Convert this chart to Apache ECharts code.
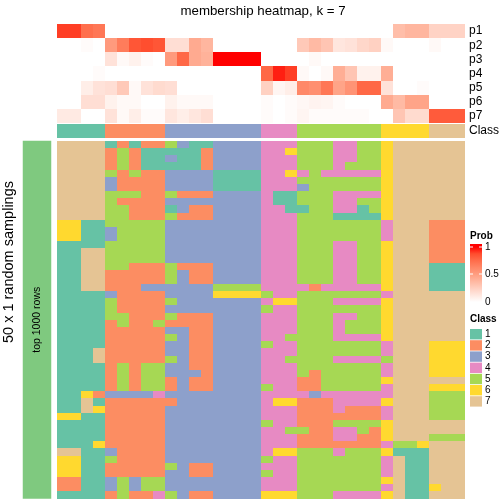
<!DOCTYPE html>
<html>
<head>
<meta charset="utf-8">
<style>html,body{margin:0;padding:0;background:#fff}#c{width:504px;height:504px}</style>
<script src="https://cdn.jsdelivr.net/npm/echarts@6/dist/echarts.min.js"></script>
</head>
<body>
<div id="c"></div>
<script>
const chartTitle = "membership heatmap, k = 7";
const sideTitle = "50 x 1 random samplings";
const sideLabel = "top 1000 rows";
const probLabels = ["p1","p2","p3","p4","p5","p6","p7"];
const p1 = [.9,.9,.74,.7,0,0,0,0,0,0,0,0,0,0,0,0,0,0,0,0,0,0,0,0,0,0,0,0,.34,.38,.38,.23,.23,.23];
const p2 = [0,0,.02,0,.52,.68,.84,.87,.84,.17,.17,.44,.38,0,0,0,0,0,0,0,.28,.36,.3,.13,.15,.21,.24,.03,0,0,0,.03,0,0];
const p3 = [0,0,0,0,.15,.03,.07,.02,0,.52,.77,.44,.4,1,1,1,1,0,0,0,0,.03,0,0,0,0,0,0,0,0,0,0,0,0];
const p4 = [0,0,0,.02,0,0,0,0,0,0,0,0,0,0,0,0,0,.77,.95,.9,.03,0,.03,.42,.3,.07,.07,.42,0,0,0,0,0,0];
const p5 = [0,0,.09,.15,.17,.28,.03,.15,.19,.17,0,0,0,0,0,0,0,.24,.05,.09,.62,.58,.7,.47,.56,.77,.77,.15,0,0,.02,0,0,0];
const p6 = [0,0,.17,.17,.07,.03,.03,0,0,.07,.03,.03,.03,0,0,0,0,.02,0,.02,.04,.06,.05,.02,0,0,0,.44,.36,.47,.47,0,0,0];
const p7 = [.11,.11,0,0,.15,.03,.09,.02,.02,.13,.09,.13,.17,0,0,0,0,.02,0,.02,.05,.02,.02,.02,.02,.02,0,0,.3,.19,.19,.82,.82,.82];
const probRows = [p1,p2,p3,p4,p5,p6,p7];
const classBar = [1,1,1,1,2,2,2,2,2,3,3,3,3,3,3,3,3,4,4,4,5,5,5,5,5,5,5,6,6,6,6,7,7,7];
const classLabels = ["1","2","3","4","5","6","7"];
const classColors = ["#66C2A5","#FC8D62","#8DA0CB","#E78AC3","#A6D854","#FFD92F","#E5C494"];
const probTicks = ["1","0.5","0"];
const rampColors = ["#FFFFFF","#FFE7DF","#FFCFC0","#FFB7A0","#FF9E81","#FF8767","#FF6D4B","#FF4D2E","#FF0000"];
const samplingRows = [
"7777 12122 5311 3333 444 5554455 6 777 777",
"7777 25211 1112 3333 446 5554455 6 777 777",
"7777 25211 3112 3333 444 5554455 6 777 777",
"7777 25211 1112 3333 444 5554555 6 777 777",
"7777 52522 3333 1111 446 4544444 6 777 777",
"7777 32222 3333 1111 444 5555555 6 777 777",
"7777 32222 3333 1111 444 3555555 6 777 777",
"7777 55522 5222 3333 411 5554444 6 777 777",
"7777 52222 3333 3333 411 5554455 6 777 777",
"7777 55222 1322 3333 441 1554415 6 777 777",
"7777 55222 5222 3333 444 5551111 6 777 777",
"6611 55555 3333 3333 444 5555555 4 777 222",
"6611 35555 3333 3333 444 5555555 4 777 222",
"6611 35555 3333 3333 444 5555555 4 777 222",
"1111 55555 3333 3333 444 5554455 6 777 222",
"1177 55555 3333 3333 444 5554455 6 777 222",
"1177 55555 3333 3333 444 5554455 6 777 222",
"1177 55222 5222 3333 444 5554455 6 777 111",
"1177 22222 5322 3333 444 5554455 6 777 111",
"1177 22222 5322 3333 444 5554455 6 777 111",
"1177 22233 3333 5555 444 4244444 6 777 111",
"1111 32222 3333 6666 544 5555555 4 777 777",
"1111 52222 5333 3333 466 5554444 6 777 777",
"1111 52222 3333 3333 544 5555555 6 777 777",
"1111 55222 5222 3333 444 5554455 6 777 777",
"1111 25225 2222 3333 444 5554555 6 777 777",
"1111 22222 3322 3333 444 5554555 6 777 777",
"1111 22222 5322 3333 445 5554444 6 777 777",
"1111 22222 3322 3333 544 5555555 4 777 666",
"1117 22222 3322 3333 444 5555555 4 777 666",
"1117 22222 5322 3333 445 5554444 5 777 666",
"1111 25255 3322 3333 444 5555555 4 777 666",
"1111 25255 3332 3333 444 5255555 4 777 666",
"1111 25255 2322 3333 444 2255555 6 777 777",
"1111 25255 2322 3333 544 2255555 4 777 666",
"1162 33334 3333 3333 444 4344444 4 777 555",
"1171 22222 2333 3333 466 2224444 6 777 555",
"1176 22222 3333 3333 444 2224222 4 777 555",
"6611 22222 3333 3333 444 2222222 4 777 555",
"1111 22222 3333 3333 544 2225555 6 777 777",
"1111 22222 3333 3333 445 5224452 6 777 777",
"1111 22222 3333 3333 444 2224422 6 777 555",
"1116 22222 3333 3333 444 2222222 4 556 777",
"7711 32222 3333 3333 466 5554555 6 111 777",
"6611 52222 3333 3333 544 5555555 4 711 777",
"6611 22222 5322 3333 444 5555555 4 711 777",
"6611 22222 3322 3333 544 5555555 4 711 777",
"2211 35355 3333 3333 444 5555555 6 711 777",
"2211 35355 3333 3333 444 5555555 4 711 677",
"1111 25224 5322 3333 666 5554444 6 711 777"
].map(s => s.replace(/ /g, "").split("").map(Number));

const FONT = "Liberation Sans";
const columns = classBar.map((_, i) => String(i));
const rowNames = samplingRows.map((_, i) => String(i));

const probData = [];
probRows.forEach((row, r) => row.forEach((v, c) => probData.push([c, r, v])));
const classData = classBar.map((v, c) => [c, 0, v]);
const samplingData = [];
samplingRows.forEach((row, r) => row.forEach((v, c) => samplingData.push([c, r, v])));

// Cell drawn through the axes' own scales, with edges snapped to whole pixels so no seams show.
function cell(params, api) {
  const p = api.coord([api.value(0), api.value(1)]);
  const s = api.size([1, 1]);
  const x0 = Math.round(p[0] - s[0] / 2), x1 = Math.round(p[0] + s[0] / 2);
  const y0 = Math.round(p[1] - s[1] / 2), y1 = Math.round(p[1] + s[1] / 2);
  return {type:"rect", shape:{x:x0, y:y0, width:x1-x0, height:y1-y0},
          style:{fill:api.visual("color"), stroke:null}};
}
function cellSeries(i, data) {
  return {type:"custom", xAxisIndex:i, yAxisIndex:i, data:data, renderItem:cell, encode:{x:0, y:1},
          progressive:0, silent:true};
}
function xA(i, data) {
  return {type:"category", gridIndex:i, data:data, show:false};
}
function yA(i, data, labelled) {
  return {
    type:"category", gridIndex:i, data:data, inverse:true, position:"right",
    axisLine:{show:false}, axisTick:{show:false}, splitLine:{show:false},
    axisLabel:{show:labelled, color:"#000", fontFamily:FONT, fontSize:12, margin:4, interval:0}
  };
}
const graphics = [
  {type:"text", x:9, y:262, rotation:Math.PI/2, style:{text:sideTitle, fontFamily:FONT, fontSize:14.5, fill:"#000", textAlign:"center", textVerticalAlign:"middle"}},
  {type:"text", x:470, y:236, style:{text:"Prob", fontFamily:FONT, fontSize:10, fontWeight:"bold", fill:"#000", textVerticalAlign:"middle"}},
  {type:"rect", shape:{x:470, y:244, width:12, height:58}, style:{fill:{type:"linear", x:0, y:0, x2:0, y2:1, colorStops:
    [{offset:0, color:rampColors[8]},{offset:0.05, color:rampColors[8]}].concat(rampColors.slice().reverse().map((c,i)=>({offset:0.05+0.95*i/8, color:c})))}}},
  {type:"text", x:470, y:319, style:{text:"Class", fontFamily:FONT, fontSize:10, fontWeight:"bold", fill:"#000", textVerticalAlign:"middle"}}
];
[247, 274].forEach(y => {
  graphics.push({type:"line", shape:{x1:470,y1:y,x2:473,y2:y}, style:{stroke:"#fff", lineWidth:1}});
  graphics.push({type:"line", shape:{x1:479,y1:y,x2:482,y2:y}, style:{stroke:"#fff", lineWidth:1}});
});
probTicks.forEach((t, i) => {
  graphics.push({type:"text", x:485, y:[247,274.5,302][i], style:{text:t, fontFamily:FONT, fontSize:10, fill:"#000", textVerticalAlign:"middle"}});
});
classLabels.forEach((t, i) => {
  const y = 329 + i * 11.2;
  graphics.push({type:"rect", shape:{x:470, y:y, width:12, height:10.4}, style:{fill:classColors[i]}});
  graphics.push({type:"text", x:485, y:y+5.2, style:{text:t, fontFamily:FONT, fontSize:10, fill:"#000", textVerticalAlign:"middle"}});
});

const chart = echarts.init(document.getElementById("c"), null, {renderer:"canvas"});
chart.setOption({
  animation:false,
  backgroundColor:"#fff",
  title:{text:chartTitle, left:258, top:0, textAlign:"center", textStyle:{fontFamily:FONT, fontSize:13.3, fontWeight:"normal", color:"#000"}},
  grid:[
    {left:57, top:24, width:408, height:99},
    {left:57, top:124, width:408, height:14},
    {left:57, top:141, width:408, height:357.5},
    {left:23, top:141, width:28, height:357.5}
  ],
  xAxis:[xA(0,columns), xA(1,columns), xA(2,columns), xA(3,["s"])],
  yAxis:[yA(0,probLabels,true), yA(1,["Class"],true), yA(2,rowNames,false), yA(3,["s"],false)],
  visualMap:[
    {type:"continuous", show:false, seriesIndex:0, dimension:2, min:0, max:1, inRange:{color:rampColors}},
    {type:"piecewise", show:false, seriesIndex:[1,2], dimension:2,
     pieces:classColors.map((c,i)=>({value:i+1, color:c}))}
  ],
  series:[
    cellSeries(0, probData),
    cellSeries(1, classData),
    cellSeries(2, samplingData),
    {type:"heatmap", xAxisIndex:3, yAxisIndex:3, data:[{value:[0,0,1], itemStyle:{color:"#7FC97F"}}], progressive:0,
     label:{show:true, formatter:sideLabel, rotate:90, fontFamily:FONT, fontSize:10.5, color:"#000"}}
  ],
  graphic:graphics
});
</script>
</body>
</html>
